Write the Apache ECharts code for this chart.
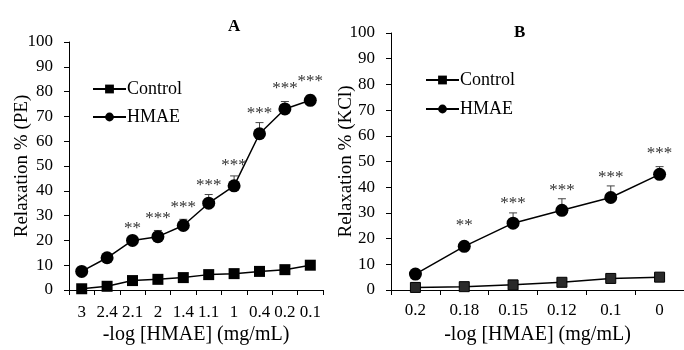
<!DOCTYPE html>
<html><head><meta charset="utf-8">
<script src="https://cdn.jsdelivr.net/npm/echarts@6/dist/echarts.min.js"></script>
<style>html,body{margin:0;padding:0;background:#fff}#c{width:684px;height:350px}</style>
</head><body><div id="c"></div>
<script>
// Panel A
const catsA = ['3','2.4','2.1','2','1.4','1.1','1','0.4','0.2','0.1'];
const controlA = [0.5, 1.5, 3.8, 4.3, 5.0, 6.2, 6.6, 7.5, 8.2, 10.0];
const hmaeA = [7.5, 13.0, 20.0, 21.5, 26.0, 35.0, 42.0, 63.0, 73.0, 76.5];
const hmaeErrA = [0.3, 1.5, 1.5, 2.5, 2.5, 3.5, 4.0, 4.5, 3.0, 2.0];
const sigLabelsA = ['**','***','***','***','***','***','***','***'];
const sigCatA = [2.35, 3, 4, 5, 6, 7, 8, 9];
const sigYA = [26.6, 30.5, 35, 44, 52, 73, 83, 86];
// Panel B
const catsB = ['0.2','0.18','0.15','0.12','0.1','0'];
const controlB = [1.0, 1.3, 2.0, 3.0, 4.5, 5.0];
const hmaeB = [6.2, 17.0, 26.0, 31.0, 36.0, 45.0];
const hmaeErrB = [0.5, 1.5, 4.0, 4.5, 4.5, 3.0];
const sigLabelsB = ['**','***','***','***','***'];
const sigCatB = [1, 2, 3, 4, 5];
const sigYB = [27, 35.5, 40.5, 45.5, 55];

const FONT = '"Liberation Serif","Times New Roman",serif';
const chart = echarts.init(document.getElementById('c'), null, {renderer:'canvas'});

function errSeries(xi, yi, vals, errs){
  return {
    type:'custom', xAxisIndex:xi, yAxisIndex:yi, silent:true, z:1,
    data: vals.map((v,i)=>[i, v, v+errs[i]]),
    renderItem(params, api){
      const p0 = api.coord([api.value(0), api.value(1)]);
      const p1 = api.coord([api.value(0), api.value(2)]);
      return {type:'group', children:[
        {type:'line', shape:{x1:p0[0],y1:p0[1],x2:p1[0],y2:p1[1]}, style:{stroke:'#444',lineWidth:1}},
        {type:'line', shape:{x1:p1[0]-4,y1:p1[1],x2:p1[0]+4,y2:p1[1]}, style:{stroke:'#444',lineWidth:1}}
      ]};
    }
  };
}
function sigSeries(xi, yi, cats, ys, labels){
  return {
    type:'custom', xAxisIndex:xi, yAxisIndex:yi, silent:true, z:5,
    data: cats.map((c,i)=>[c, ys[i], i]),
    renderItem(params, api){
      const p = api.coord([api.value(0), api.value(1)]);
      return {type:'text', x:p[0], y:p[1]+4.5, style:{text:labels[api.value(2)], fill:'#333', font:'17px '+FONT, align:'center', verticalAlign:'middle'}};
    }
  };
}
const xAxisCommon = {
  type:'category', boundaryGap:true,
  axisLine:{lineStyle:{color:'#000',width:1}},
  axisTick:{show:true, alignWithLabel:false, length:5, lineStyle:{color:'#000'}},
  axisLabel:{interval:0, color:'#000', fontFamily:FONT, fontSize:17},
  name:'-log [HMAE] (mg/mL)', nameLocation:'middle', nameMoveOverlap:false,
  nameTextStyle:{color:'#000', fontFamily:FONT, fontSize:20}
};
const yAxisCommon = {
  type:'value', min:0, max:100, interval:10,
  splitLine:{show:false},
  axisLine:{show:true, lineStyle:{color:'#000',width:1}},
  axisTick:{show:true, length:5, lineStyle:{color:'#000'}},
  axisLabel:{color:'#000', fontFamily:FONT, fontSize:17, margin:16},
  nameLocation:'middle', nameRotate:90, nameMoveOverlap:false,
  nameTextStyle:{color:'#000', fontFamily:FONT, fontSize:19}
};
const lineStyle = {color:'#000', width:1.5};
chart.setOption({
  animation:false,
  title:[
    {text:'A', left:223, top:13, textStyle:{fontFamily:FONT, fontSize:17, fontWeight:'bold', color:'#000'}},
    {text:'B', left:509, top:19, textStyle:{fontFamily:FONT, fontSize:17, fontWeight:'bold', color:'#000'}}
  ],
  legend:[
    {orient:'vertical', left:87, top:75, itemWidth:33, itemHeight:11, itemGap:10,
     textStyle:{fontFamily:FONT, fontSize:18, color:'#000', padding:[0,0,0,-4]},
     data:[{name:'Control'},{name:'HMAE'}], seriesIndex:[0,1]},
    {orient:'vertical', left:420, top:66, itemWidth:33, itemHeight:11, itemGap:11,
     textStyle:{fontFamily:FONT, fontSize:18, color:'#000', padding:[0,0,0,-4]},
     data:[{name:'Control'},{name:'HMAE'}]}
  ],
  grid:[
    {left:69, top:42, width:254, height:252},
    {left:391, top:33, width:300, height:259}
  ],
  xAxis:[
    Object.assign({}, xAxisCommon, {gridIndex:0, data:catsA, nameGap:35, axisLabel:Object.assign({}, xAxisCommon.axisLabel, {margin:14})}),
    Object.assign({}, xAxisCommon, {gridIndex:1, data:catsB, nameGap:35, axisLabel:Object.assign({}, xAxisCommon.axisLabel, {margin:12})})
  ],
  yAxis:[
    Object.assign({}, yAxisCommon, {gridIndex:0, name:'Relaxation % (PE)', nameGap:37}),
    Object.assign({}, yAxisCommon, {gridIndex:1, name:'Relaxation % (KCl)', nameGap:35})
  ],
  series:[
    {name:'Control', type:'line', xAxisIndex:0, yAxisIndex:0, data:controlA, symbol:'rect', symbolSize:11,
     itemStyle:{color:'#000'}, lineStyle, z:3},
    {name:'HMAE', type:'line', xAxisIndex:0, yAxisIndex:0, data:hmaeA, symbol:'circle', symbolSize:13,
     itemStyle:{color:'#000'}, lineStyle, z:3},
    errSeries(0,0,hmaeA,hmaeErrA),
    sigSeries(0,0,sigCatA,sigYA,sigLabelsA),
    {name:'Control', type:'line', xAxisIndex:1, yAxisIndex:1, data:controlB, symbol:'rect', symbolSize:10,
     itemStyle:{color:'#2a2a2a', borderColor:'#000', borderWidth:1}, lineStyle, z:3},
    {name:'HMAE', type:'line', xAxisIndex:1, yAxisIndex:1, data:hmaeB, symbol:'circle', symbolSize:13,
     itemStyle:{color:'#000'}, lineStyle, z:3},
    errSeries(1,1,hmaeB,hmaeErrB),
    sigSeries(1,1,sigCatB,sigYB,sigLabelsB)
  ]
});
</script></body></html>
